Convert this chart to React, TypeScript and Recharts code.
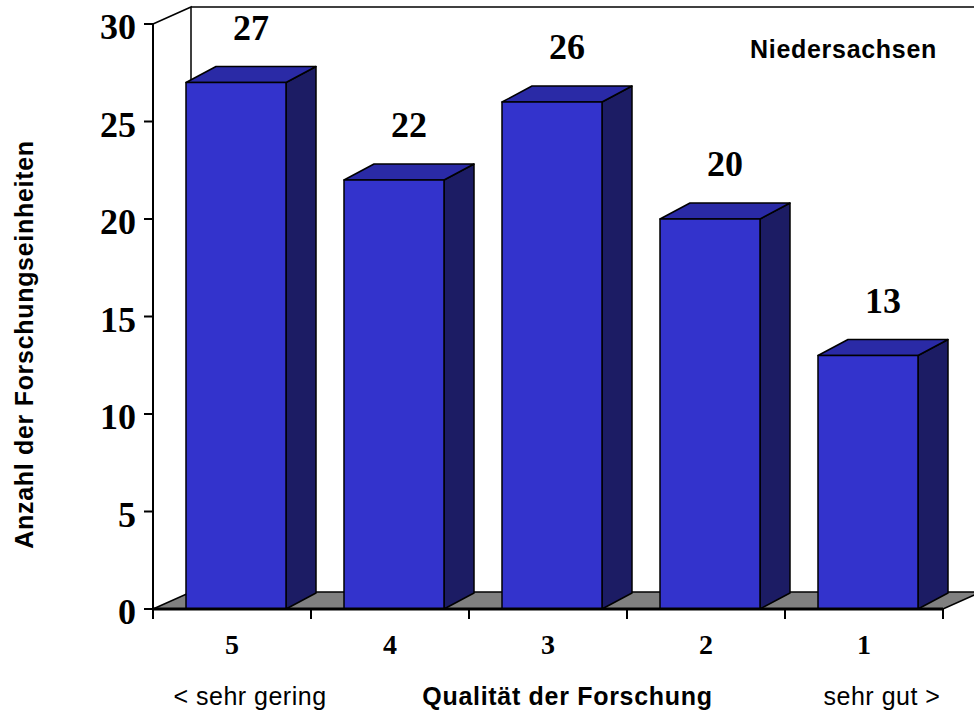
import React from 'react';
import { BarChart, Bar, XAxis, YAxis, LabelList, ReferenceArea } from 'recharts';

const categories = ['5', '4', '3', '2', '1'];
const values = [27, 22, 26, 20, 13];
const yTicks = [0, 5, 10, 15, 20, 25, 30];
const endLabels = ['< sehr gering', '', '', '', 'sehr gut >'];
const xTitle = 'Qualität der Forschung';
const yTitle = 'Anzahl der Forschungseinheiten';
const regionLabel = 'Niedersachsen';

const data = categories.map((c, i) => ({ cat: c, value: values[i] }));

const W = 974;
const H = 711;
const MARGIN = { top: 24, right: 31, bottom: 42, left: 73 };
const Y_AXIS_W = 80;
const X_AXIS_H = 60;
const PLOT_W = W - MARGIN.left - MARGIN.right - Y_AXIS_W;

const DX = 30;
const DY = 16;
const WDX = 38;
const WDY = 17;
const SHIFT = 4;

const SERIF = "'Liberation Serif', 'Times New Roman', serif";
const SANS = "'Liberation Sans', Arial, sans-serif";

const Bar3D = (props: any) => {
  const { x, y, width, height } = props;
  const x0 = x + SHIFT;
  const x1 = x0 + width;
  const yb = y + height;
  return (
    <g stroke="#000" strokeWidth={1.5} strokeLinejoin="round">
      <polygon
        points={`${x1},${y} ${x1 + DX},${y - DY} ${x1 + DX},${yb - DY} ${x1},${yb}`}
        fill="#1C1C64"
      />
      <polygon
        points={`${x0},${y} ${x0 + DX},${y - DY} ${x1 + DX},${y - DY} ${x1},${y}`}
        fill="#2A2AA6"
      />
      <rect x={x0} y={y} width={width} height={height} fill="#3333CC" />
    </g>
  );
};

const Backdrop = (props: any) => {
  const { x, y, width, height } = props;
  const left = x;
  const top = y;
  const right = x + width;
  const bottom = y + height;
  return (
    <g>
      <polygon
        points={`${left},${bottom} ${right},${bottom} ${right + WDX},${bottom - WDY} ${left + WDX},${bottom - WDY}`}
        fill="#808080"
        stroke="#000"
        strokeWidth={1.5}
      />
      <polyline
        points={`${left},${top} ${left + WDX},${top - WDY} ${left + WDX},${bottom - WDY}`}
        fill="none"
        stroke="#000"
        strokeWidth={1.5}
      />
      <line x1={left + WDX} y1={top - WDY} x2={right + WDX + 60} y2={top - WDY} stroke="#000" strokeWidth={1.5} />
      <text
        x={right - 99.5}
        y={top + 34}
        textAnchor="middle"
        fontFamily={SANS}
        fontWeight="bold"
        fontSize={25}
        letterSpacing={0.7}
        fill="#000"
      >
        {regionLabel}
      </text>
    </g>
  );
};

const XTick = (props: any) => {
  const { x, y, payload, index } = props;
  const band = PLOT_W / categories.length;
  return (
    <g>
      <line x1={x - band / 2} y1={y} x2={x - band / 2} y2={y + 10} stroke="#000" strokeWidth={2} />
      {index === categories.length - 1 && (
        <line x1={x + band / 2} y1={y} x2={x + band / 2} y2={y + 10} stroke="#000" strokeWidth={2} />
      )}
      <text x={x} y={y + 45} textAnchor="middle" fontFamily={SERIF} fontWeight="bold" fontSize={28} fill="#000">
        {payload.value}
      </text>
      {endLabels[index] ? (
        <text
          x={x + 18}
          y={y + 96}
          textAnchor="middle"
          fontFamily={SANS}
          fontSize={25}
          letterSpacing={0.5}
          fill="#000"
        >
          {endLabels[index]}
        </text>
      ) : null}
    </g>
  );
};

const YTick = (props: any) => {
  const { x, y, payload } = props;
  return (
    <text x={x} y={y + 15} textAnchor="end" fontFamily={SERIF} fontWeight="bold" fontSize={36} fill="#000">
      {payload.value}
    </text>
  );
};

const XTitle = (props: any) => {
  const vb = props.viewBox || {};
  return (
    <text
      x={vb.x + vb.width / 2 + 19.5}
      y={vb.y + 96}
      textAnchor="middle"
      fontFamily={SANS}
      fontWeight="bold"
      fontSize={25}
      letterSpacing={0.7}
      fill="#000"
    >
      {xTitle}
    </text>
  );
};

const YTitle = (props: any) => {
  const vb = props.viewBox || {};
  const cx = 33;
  const cy = vb.y + vb.height / 2 + 28;
  return (
    <text
      x={cx}
      y={cy}
      transform={`rotate(-90, ${cx}, ${cy})`}
      textAnchor="middle"
      fontFamily={SANS}
      fontWeight="bold"
      fontSize={25}
      letterSpacing={0.7}
      fill="#000"
    >
      {yTitle}
    </text>
  );
};

const ValueLabel = (props: any) => {
  const { x, y, width, value } = props;
  return (
    <text
      x={Number(x) + SHIFT + Number(width) / 2 + DX / 2}
      y={Number(y) - 43}
      textAnchor="middle"
      fontFamily={SERIF}
      fontWeight="bold"
      fontSize={36}
      fill="#000"
    >
      {value}
    </text>
  );
};

export default function App() {
  return (
    <div style={{ position: 'absolute', left: 0, top: 0, width: W, height: H, background: '#fff' }}>
      <BarChart width={W} height={H} data={data} margin={MARGIN} barSize={100}>
        <XAxis
          dataKey="cat"
          height={X_AXIS_H}
          tickLine={false}
          tickSize={0}
          tickMargin={0}
          axisLine={{ stroke: '#000', strokeWidth: 3 }}
          tick={<XTick />}
          interval={0}
          label={<XTitle />}
        />
        <YAxis
          width={Y_AXIS_W}
          domain={[0, 30]}
          ticks={yTicks}
          interval={0}
          tickSize={9}
          tickMargin={8}
          tickLine={{ stroke: '#000', strokeWidth: 2 }}
          axisLine={{ stroke: '#000', strokeWidth: 2 }}
          tick={<YTick />}
          label={<YTitle />}
        />
        <ReferenceArea y1={0} y2={30} shape={<Backdrop />} ifOverflow="visible" />
        <Bar dataKey="value" shape={<Bar3D />} isAnimationActive={false}>
          <LabelList dataKey="value" content={<ValueLabel />} />
        </Bar>
      </BarChart>
    </div>
  );
}
